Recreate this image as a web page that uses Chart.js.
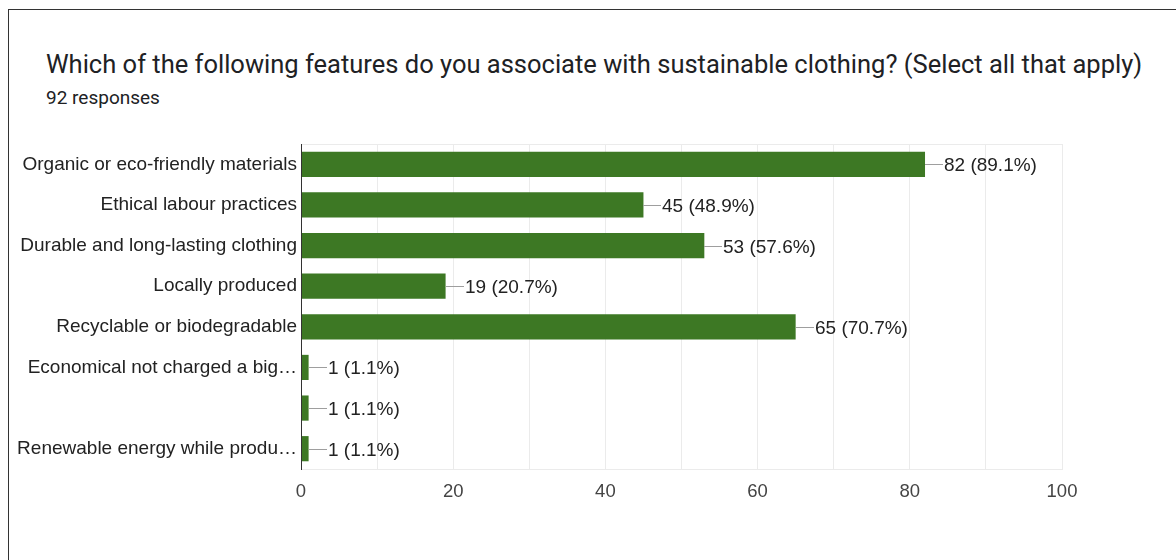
<!DOCTYPE html>
<html>
<head>
<meta charset="utf-8">
<script src="https://cdn.jsdelivr.net/npm/chart.js@4"></script>
<style>
  html, body { margin: 0; padding: 0; background: #fff; }
  #wrap { position: relative; width: 1176px; height: 560px; overflow: hidden; }
  #frame { position: absolute; left: 8px; top: 9px; width: 1200px; height: 600px;
           border-top: 1px solid #333; border-left: 1px solid #333; }
  #title { position: absolute; left: 46px; top: 49px; font: 25.5px Roboto, sans-serif; color: #202124; white-space: nowrap; }
  #sub { position: absolute; left: 46px; top: 86px; font: 19px Roboto, sans-serif; color: #202124; }
  #chart { position: absolute; left: 0; top: 0; }
</style>
</head>
<body>
<div id="wrap">
  <div id="frame"></div>
  <div id="title">Which of the following features do you associate with sustainable clothing? (Select all that apply)</div>
  <div id="sub">92 responses</div>
  <canvas id="chart" width="1176" height="560"></canvas>
</div>
<script>
var categories = [
  "Organic or eco-friendly materials",
  "Ethical labour practices",
  "Durable and long-lasting clothing",
  "Locally produced",
  "Recyclable or biodegradable",
  "Economical not charged a big\u2026",
  "",
  "Renewable energy while produ\u2026"
];
var counts = [82, 45, 53, 19, 65, 1, 1, 1];
var percents = ["89.1%", "48.9%", "57.6%", "20.7%", "70.7%", "1.1%", "1.1%", "1.1%"];
var xTicks = [0, 20, 40, 60, 80, 100];

var barColor = "#3d7824";
var labelFont = "'Liberation Sans', Arial, sans-serif";

// leader line + "n (p%)" text after each bar, plus the light frame on top
var valueLabels = {
  id: "valueLabels",
  beforeDatasetsDraw: function(chart) {
    var a = chart.chartArea, ctx = chart.ctx;
    ctx.save();
    ctx.strokeStyle = "#ebebeb";
    ctx.lineWidth = 1;
    ctx.beginPath();
    ctx.moveTo(a.left, a.top + 0.5);
    ctx.lineTo(a.right, a.top + 0.5);
    ctx.stroke();
    ctx.restore();
  },
  afterDatasetsDraw: function(chart) {
    var ctx = chart.ctx;
    var meta = chart.getDatasetMeta(0);
    ctx.save();
    ctx.font = "19px " + labelFont;
    ctx.textBaseline = "middle";
    ctx.textAlign = "left";
    meta.data.forEach(function(bar, i) {
      var x = Math.round(bar.x), y = Math.round(bar.y) + 0.5;
      ctx.strokeStyle = "#9e9e9e";
      ctx.lineWidth = 1;
      ctx.beginPath();
      ctx.moveTo(x, y);
      ctx.lineTo(x + 18, y);
      ctx.stroke();
      ctx.fillStyle = "#222";
      ctx.fillText(counts[i] + " (" + percents[i] + ")", x + 19, y + 1);
    });
    ctx.restore();
  }
};

new Chart("chart", {
  type: "bar",
  data: {
    labels: categories,
    datasets: [{
      data: counts,
      backgroundColor: barColor,
      borderWidth: 0,
      categoryPercentage: 1,
      barPercentage: 0.62
    }]
  },
  options: {
    indexAxis: "y",
    responsive: false,
    animation: false,
    layout: { padding: { top: 144, right: 114, left: 0, bottom: 0 } },
    plugins: { legend: { display: false }, tooltip: { enabled: false } },
    scales: {
      x: {
        min: 0,
        max: 100,
        afterFit: function(s) { s.height = 91; },
        afterBuildTicks: function(s) {
          var t = [];
          for (var v = 0; v <= 100; v += 10) t.push({ value: v });
          s.ticks = t;
        },
        ticks: {
          autoSkip: false,
          maxRotation: 0,
          padding: 12,
          color: "#444",
          font: { family: labelFont, size: 18.5 },
          callback: function(v) { return xTicks.indexOf(v) >= 0 ? String(v) : ""; }
        },
        grid: { color: "#ebebeb", lineWidth: 1, drawTicks: false },
        border: { color: "#ebebeb", width: 1 }
      },
      y: {
        afterFit: function(s) { s.width = 301; },
        ticks: {
          padding: 4,
          color: "#222",
          font: { family: labelFont, size: 19 }
        },
        grid: { display: false, drawTicks: false },
        border: { color: "#333", width: 1, z: 1 }
      }
    }
  },
  plugins: [valueLabels]
});
</script>
</body>
</html>
